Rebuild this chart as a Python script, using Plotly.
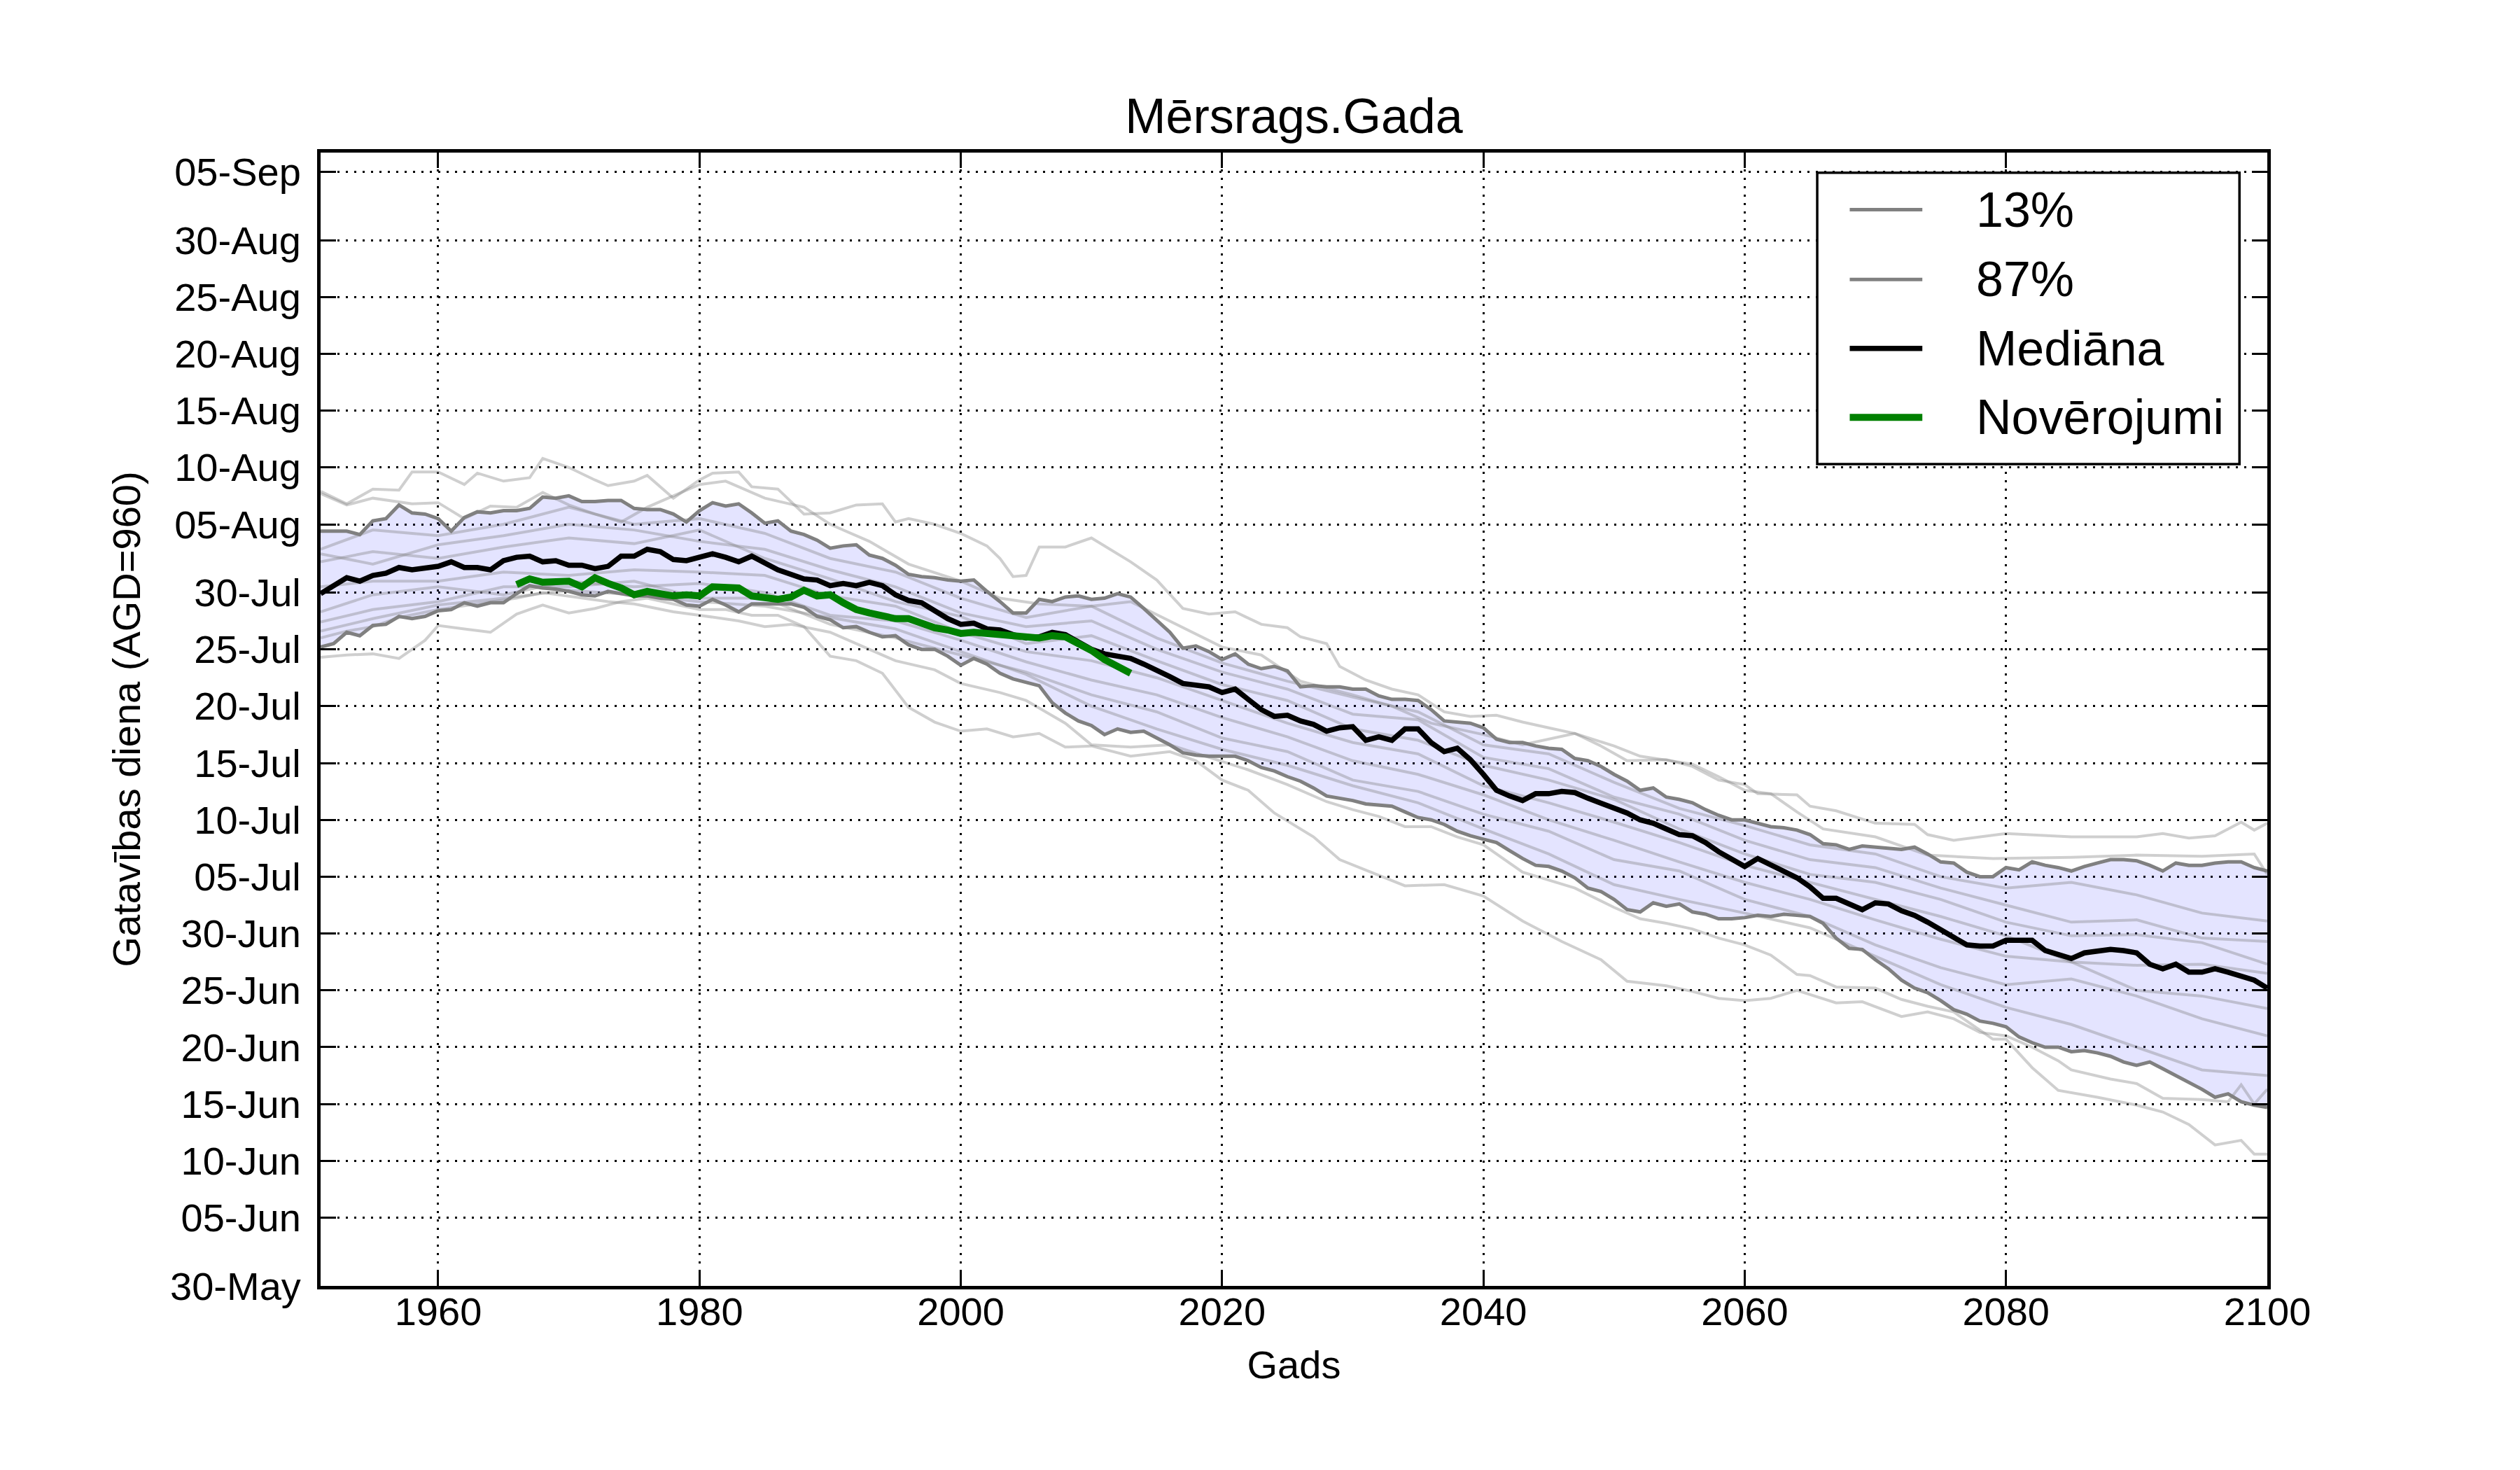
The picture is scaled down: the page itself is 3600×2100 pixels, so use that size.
import plotly.graph_objects as go

# ---------------- data (day of year, non-leap) ----------------
median_years = [1951,1953,1954,1955,1956,1957,1958,1959,1960,1961,1962,1963,1964,1965,1966,1967,1968,1969,1970,
                1971,1972,1973,1974,1975,1976,1977,1978,1979,1980,1981,1982,1983,1984,1985,1986,1987,1988,1989,1990,
                1991,1992,1993,1994,1995,1996,1997,1998,1999,2000,2001,2002,2003,2004,2005,2006,2007,2008,2009,2010,
                2011,2012,2013,2014,2015,2016,2017,2018,2019,2020,2021,2022,2023,2024,2025,2026,2027,2028,2029,2030,
                2031,2032,2033,2034,2035,2036,2037,2038,2039,2040,2041,2042,2043,2044,2045,2046,2047,2048,2049,2050,
                2051,2052,2053,2054,2055,2056,2057,2058,2059,2060,2061,2062,2063,2064,2065,2066,2067,2068,2069,2070,
                2071,2072,2073,2074,2075,2076,2077,2078,2079,2080,2081,2082,2083,2084,2085,2086,2087,2088,2089,2090,
                2091,2092,2093,2094,2095,2096,2097,2098,2099,2100]
median_vals = [210.9,212.3,212.0,212.5,212.7,213.2,213.0,213.1,213.3,213.7,213.2,213.2,213.0,213.8,214.1,214.2,213.7,213.8,213.4,
               213.4,213.1,213.3,214.2,214.2,214.8,214.6,213.9,213.8,214.1,214.4,214.1,213.7,214.2,213.6,213.0,212.6,212.2,212.1,211.6,
               211.8,211.6,211.9,211.6,210.8,210.3,210.1,209.4,208.7,208.2,208.3,207.8,207.7,207.3,207.0,207.1,207.5,207.3,206.7,206.0,
               205.6,205.4,205.2,204.7,204.2,203.6,203.0,202.8,202.7,202.2,202.5,201.6,200.7,200.1,200.2,199.7,199.4,198.8,199.1,199.2,
               198.0,198.3,198.0,199.0,199.0,197.8,197.0,197.3,196.3,195.0,193.6,193.1,192.7,193.3,193.3,193.5,193.4,192.9,192.5,192.1,
               191.6,191.0,190.7,190.2,189.7,189.6,189.0,188.2,187.6,186.9,187.6,187.0,186.4,185.9,185.1,184.1,184.1,183.6,183.1,183.7,
               183.6,183.0,182.6,182.0,181.3,180.6,180.0,179.9,179.9,180.4,180.4,180.4,179.5,179.2,178.8,179.3,179.4,179.6,179.5,179.3,
               178.3,177.9,178.3,177.6,177.6,177.9,177.6,177.2,176.9,176.2]

p87_years = [1951,1953,1954,1955,1956,1957,1958,1959,1960,1961,1962,1963,1964,1965,1966,1967,1968,1969,1970,
             1971,1972,1973,1974,1975,1976,1977,1978,1979,1980,1981,1982,1983,1984,1985,1986,1987,1988,1989,1990,
             1991,1992,1993,1994,1995,1996,1997,1998,1999,2000,2001,2002,2003,2004,2005,2006,2007,2008,2009,2010,
             2011,2012,2013,2014,2015,2016,2017,2018,2019,2020,2021,2022,2023,2024,2025,2026,2027,2028,2029,2030,
             2031,2032,2033,2034,2035,2036,2037,2038,2039,2040,2041,2042,2043,2044,2045,2046,2047,2048,2049,2050,
             2051,2052,2053,2054,2055,2056,2057,2058,2059,2060,2061,2062,2063,2064,2065,2066,2067,2068,2069,2070,
             2071,2072,2073,2074,2075,2076,2077,2078,2079,2080,2081,2082,2083,2084,2085,2086,2087,2088,2089,2090,
             2091,2092,2093,2094,2095,2096,2097,2098,2099,2100]
p87_vals = [216.4,216.4,216.1,217.3,217.5,218.7,218.0,217.9,217.5,216.4,217.6,218.1,218.0,218.2,218.2,218.4,219.4,219.3,219.5,
            219.0,219.0,219.1,219.1,218.4,218.3,218.3,217.9,217.2,218.2,218.9,218.6,218.8,218.0,217.1,217.3,216.4,216.1,215.6,214.9,
            215.1,215.2,214.3,214.0,213.4,212.6,212.4,212.3,212.1,212.0,212.1,211.1,210.2,209.2,209.2,210.4,210.2,210.6,210.7,210.4,
            210.5,210.9,210.6,209.6,208.6,207.5,206.1,206.3,205.8,205.1,205.6,204.7,204.3,204.5,204.1,202.7,202.8,202.7,202.7,202.5,
            202.5,201.9,201.6,201.6,201.5,200.7,199.7,199.6,199.5,199.1,198.1,197.8,197.8,197.5,197.3,197.2,196.4,196.2,195.7,195.0,
            194.4,193.6,193.8,193.0,192.8,192.5,191.9,191.4,191.0,191.0,190.7,190.4,190.3,190.1,189.7,188.9,188.8,188.4,188.7,188.6,
            188.5,188.4,188.6,188.0,187.3,187.2,186.4,186.0,186.0,186.8,186.6,187.3,187.0,186.8,186.5,186.9,187.2,187.5,187.5,187.4,
            187.0,186.5,187.2,187.0,187.0,187.2,187.3,187.3,186.8,186.5]

p13_years = list(range(1951, 2101))
p13_vals = [206.2,206.5,207.5,207.2,208.1,208.2,208.9,208.7,208.9,209.4,209.5,210.1,209.8,210.1,210.1,210.9,211.6,211.4,211.3,211.1,
            210.8,210.7,211.1,210.9,210.7,210.7,210.5,210.4,209.9,209.8,210.4,209.9,209.3,210.0,210.0,210.0,210.0,209.7,208.9,208.6,
            207.9,208.0,207.5,207.1,207.2,206.4,206.0,206.0,205.4,204.6,205.2,204.7,203.9,203.4,203.1,202.8,201.3,200.4,199.7,199.3,
            198.5,199.0,198.7,198.8,198.2,197.6,196.9,196.7,196.6,196.6,196.6,196.2,195.6,195.3,194.8,194.4,193.8,193.1,192.9,192.7,
            192.4,192.3,192.2,191.7,191.2,191.0,190.6,190.0,189.6,189.3,189.0,188.3,187.6,187.0,186.9,186.5,185.9,185.0,184.7,184.0,
            183.1,182.9,183.7,183.4,183.6,182.9,182.7,182.3,182.3,182.4,182.6,182.5,182.7,182.6,182.5,181.9,180.6,179.7,179.6,178.7,
            177.9,176.9,176.2,175.8,175.1,174.3,173.9,173.3,173.1,172.8,171.9,171.4,171.0,171.0,170.6,170.7,170.5,170.2,169.7,169.4,
            169.7,169.1,168.5,167.9,167.3,166.6,166.9,166.2,165.9,165.7]

obs_years = list(range(1966, 2014))
obs_vals = [211.7,212.2,211.9,211.9,212.0,211.5,212.3,211.8,211.4,210.8,211.1,210.9,210.7,210.8,210.7,211.5,211.4,211.4,210.7,210.5,
            210.4,210.6,211.2,210.7,210.8,210.1,209.5,209.2,209.0,208.7,208.7,208.3,207.9,207.7,207.4,207.5,207.4,207.3,207.2,207.1,
            207.0,207.2,207.1,206.5,205.9,205.1,204.5,203.9]

# individual model runs (light grey)
m1_years = [1951,1953,1955,1957,1958,1960,1962,1963,1965,1967,1968,1970,1972,1973,1975,1976,1978,1980,1981,1983,1984,1986,1988,1990,
            1992,1994,1995,1996,1998,2000,2002,2003,2004,2005,2006,2008,2010,2013,2015,2017,2019,2021,2023,2025,2026,2028,2029,2031,
            2033,2035,2037,2039,2041,2043,2045,2047,2049,2051,2054,2056,2058,2060,2061,2064,2065,2067,2070,2073,2074,2076,2080,2085,
            2090,2092,2094,2096,2098,2099,2100]
m1_vals = [219.9,218.8,220.1,220.0,221.6,221.6,220.5,221.5,220.8,221.1,222.8,222.0,220.9,220.4,220.8,221.3,219.3,220.9,221.5,221.6,
           220.3,220.1,217.9,218.0,218.7,218.8,217.2,217.5,217.0,216.2,215.1,214.0,212.4,212.5,215.0,215.0,215.8,213.7,212.1,209.6,
           209.1,209.3,208.2,207.9,207.1,206.5,204.5,203.3,202.5,202.0,200.5,200.1,200.2,199.6,199.1,198.6,197.5,196.2,196.3,195.7,
           194.5,194.1,193.3,193.2,192.2,191.8,190.7,190.6,189.7,189.2,189.8,189.5,189.5,189.8,189.4,189.6,190.8,190.1,190.7]

m2_years = [1951,1953,1955,1958,1960,1962,1964,1966,1968,1970,1972,1974,1976,1978,1980,1982,1985,1988,1990,1993,1996,2000,2003,2006,
            2010,2013,2016,2020,2023,2026,2030,2033,2036,2040,2043,2047,2050,2052,2056,2058,2060,2062,2064,2066,2070,2074,2079,2085,
            2090,2095,2099,2100]
m2_vals = [219.7,218.7,219.3,218.8,218.9,217.5,218.6,218.5,219.8,218.7,217.9,217.2,218.5,219.5,220.5,220.8,219.3,218.5,217.0,215.5,
           213.5,212.0,210.5,210.0,209.8,210.2,208.5,206.2,205.5,203.2,202.0,201.0,199.5,198.5,197.6,198.6,197.5,196.6,195.9,194.8,
           193.6,193.3,191.7,190.2,189.5,187.9,187.6,187.7,187.9,187.8,188.0,186.2]

m3_years = [1951,1953,1955,1957,1959,1960,1962,1964,1966,1968,1970,1972,1974,1976,1978,1980,1982,1984,1986,1988,1990,1992,1994,1996,
            1998,2000,2002,2004,2006,2008,2010,2013,2016,2018,2020,2022,2024,2027,2029,2032,2034,2037,2040,2043,2046,2049,2051,2054,
            2056,2058,2060,2062,2064,2067,2069,2072,2074,2076,2078,2080,2082,2084,2085,2088,2090,2092,2095,2097,2098,2099,2100]
m3_vals = [205.3,205.5,205.6,205.2,206.8,208.1,207.8,207.5,209.1,209.9,209.2,209.6,210.2,210.5,210.0,209.5,209.5,209.0,209.0,208.0,
           205.4,205.0,203.9,200.9,199.6,198.8,199.0,198.3,198.6,197.4,197.5,196.6,197.0,196.2,194.5,193.6,191.6,189.5,187.5,186.1,
           185.2,185.3,184.3,182.1,180.3,178.7,176.8,176.4,175.9,175.3,175.1,175.3,176.0,174.9,175.0,173.7,174.1,173.5,172.3,172.0,
           171.0,169.8,169.0,168.2,167.8,166.5,166.4,166.2,167.7,166.0,167.3]

m4_years = [1951,1953,1955,1957,1960,1963,1966,1968,1970,1973,1975,1978,1980,1983,1985,1987,1990,1993,1995,1998,2000,2003,2005,2008,
            2010,2013,2016,2019,2022,2025,2028,2030,2032,2034,2036,2038,2040,2043,2047,2050,2052,2054,2056,2058,2060,2062,2064,2065,
            2067,2070,2072,2074,2076,2078,2079,2080,2082,2084,2087,2090,2092,2094,2096,2098,2099,2100]
m4_vals = [207.0,207.6,208.0,208.8,209.5,210.0,210.5,211.0,210.7,210.2,210.0,209.3,209.0,208.5,208.0,208.2,207.5,206.0,205.0,204.2,
           203.0,202.2,201.5,199.5,197.6,197.4,197.6,196.5,195.4,194.1,192.6,191.9,191.3,190.4,190.4,189.5,188.8,186.4,185.0,183.3,
           182.3,181.9,181.4,180.6,180.0,179.1,177.4,177.3,176.3,176.2,175.2,174.6,174.1,172.5,171.7,171.7,169.2,167.2,166.6,165.9,
           165.3,164.2,162.4,162.8,161.6,161.6]

grid5_years = [1951,1955,1960,1965,1970,1975,1980,1985,1990,1995,2000,2005,2010,2015,2020,2025,2030,2035,2040,2045,2050,
               2055,2060,2065,2070,2075,2080,2085,2090,2095,2100]
m5_vals = [214.8,216.5,216.0,217.0,218.5,217.0,217.5,216.2,214.0,212.8,210.5,208.8,209.8,207.0,204.8,203.2,201.8,200.5,197.6,196.8,
           194.3,192.0,190.5,188.8,188.0,186.0,185.0,185.5,184.4,182.8,182.1]
m6_vals = [214.4,213.5,215.2,216.0,217.0,216.5,215.5,214.8,213.0,211.5,209.2,208.0,208.5,206.0,204.0,202.5,200.3,199.8,196.5,195.5,
           193.0,191.5,189.2,187.5,186.8,185.0,183.5,182.0,182.2,180.6,180.3]
m7_vals = [213.7,214.6,214.0,215.0,215.8,215.3,216.5,214.0,212.2,210.2,208.9,206.5,207.2,205.0,202.9,201.5,199.0,198.0,195.8,194.5,
           192.8,190.2,188.0,186.2,185.5,184.0,182.0,180.8,180.9,180.2,178.3]
m8_vals = [211.5,212.0,212.0,212.8,212.5,213.0,212.8,212.5,210.7,209.8,207.5,205.8,205.0,203.5,201.5,199.5,197.8,196.8,194.0,192.5,
           190.8,189.0,187.0,185.5,184.0,182.5,180.8,178.5,178.2,178.3,177.5]
m9_vals = [209.3,210.8,211.5,210.8,212.0,211.5,211.8,211.0,209.0,208.5,206.8,204.9,203.3,202.0,200.0,198.3,196.2,195.0,193.2,191.0,
           189.2,187.3,185.5,184.0,182.2,180.5,179.0,178.5,176.0,175.5,174.4]
m10_vals = [208.4,209.5,210.2,211.5,211.5,212.0,210.5,210.5,208.2,207.0,205.5,204.0,202.0,200.5,198.2,197.0,194.5,193.5,191.5,190.0,
            187.5,186.5,184.0,182.5,180.0,178.0,176.5,177.0,175.5,173.5,172.0]
m11_vals = [207.6,208.7,209.9,210.5,211.2,210.8,210.2,209.8,208.8,207.8,205.8,203.8,201.0,199.0,197.2,195.8,194.0,192.5,190.2,188.0,
            185.3,184.0,182.8,181.5,179.0,176.5,174.5,173.0,171.0,169.0,168.5]

x_ticks = [1960, 1980, 2000, 2020, 2040, 2060, 2080, 2100]
y_tick_vals = [150, 156, 161, 166, 171, 176, 181, 186, 191, 196, 201, 206, 211, 217, 222, 227, 232, 237, 242, 248]
y_tick_text = ["30-May", "05-Jun", "10-Jun", "15-Jun", "20-Jun", "25-Jun", "30-Jun", "05-Jul", "10-Jul", "15-Jul",
               "20-Jul", "25-Jul", "30-Jul", "05-Aug", "10-Aug", "15-Aug", "20-Aug", "25-Aug", "30-Aug", "05-Sep"]

legend_labels = ["13%", "87%", "Mediāna", "Novērojumi"]

# ---------------- figure ----------------
FONT = "Liberation Sans, Arial, sans-serif"
fig = go.Figure()

# shaded band between 13% and 87%
fig.add_trace(go.Scatter(x=p13_years, y=p13_vals, mode="lines", line=dict(width=0, color="rgba(0,0,0,0)"),
                         showlegend=False, hoverinfo="skip"))
fig.add_trace(go.Scatter(x=p87_years, y=p87_vals, mode="lines", line=dict(width=0, color="rgba(0,0,0,0)"),
                         fill="tonexty", fillcolor="rgba(0,0,255,0.105)", showlegend=False, hoverinfo="skip"))

members = [(m1_years, m1_vals), (m2_years, m2_vals), (m3_years, m3_vals), (m4_years, m4_vals),
           (grid5_years, m5_vals), (grid5_years, m6_vals), (grid5_years, m7_vals), (grid5_years, m8_vals),
           (grid5_years, m9_vals), (grid5_years, m10_vals), (grid5_years, m11_vals)]
for xs, ys in members:
    fig.add_trace(go.Scatter(x=xs, y=ys, mode="lines", line=dict(color="rgba(128,128,128,0.38)", width=4),
                             showlegend=False, hoverinfo="skip"))

fig.add_trace(go.Scatter(x=p13_years, y=p13_vals, mode="lines", name="13%",
                         line=dict(color="#808080", width=5), showlegend=False))
fig.add_trace(go.Scatter(x=p87_years, y=p87_vals, mode="lines", name="87%",
                         line=dict(color="#808080", width=5), showlegend=False))
fig.add_trace(go.Scatter(x=median_years, y=median_vals, mode="lines", name="Mediāna",
                         line=dict(color="black", width=7.5), showlegend=False))
fig.add_trace(go.Scatter(x=obs_years, y=obs_vals, mode="lines", name="Novērojumi",
                         line=dict(color="#008000", width=10), showlegend=False))

axis_common = dict(
    ticks="inside", ticklen=22, tickwidth=2.5, tickcolor="black",
    showline=True, linewidth=5, linecolor="black", mirror="ticks",
    showgrid=True, gridcolor="black", gridwidth=2.5, griddash="3px,9px",
    zeroline=False, tickfont=dict(family=FONT, size=56, color="black"),
)

fig.update_layout(
    width=3600, height=2100,
    margin=dict(l=450, r=369, t=210, b=271),
    paper_bgcolor="white", plot_bgcolor="white",
    font=dict(family=FONT, color="black"),
    showlegend=False,
    title=dict(text="Mērsrags.Gada", x=0.5, xref="paper", xanchor="center",
               y=1 - 157 / 2100, yref="container", yanchor="middle",
               font=dict(family=FONT, size=70, color="black")),
    xaxis=dict(range=[1951, 2100], tickvals=x_ticks, ticktext=[str(v) for v in x_ticks],
               title=dict(text="Gads", font=dict(family=FONT, size=56, color="black"), standoff=27),
               ticklabelstandoff=-16, **axis_common),
    yaxis=dict(range=[150, 249.7], tickvals=y_tick_vals, ticktext=y_tick_text,
               title=dict(text="Gatavības diena (AGD=960)", font=dict(family=FONT, size=56, color="black"), standoff=26),
               ticklabelstandoff=12, **axis_common),
)

# legend box (drawn by hand to reproduce the long line samples)
fig.add_shape(type="rect", xref="paper", yref="paper", x0=0.7688, x1=0.9857, y0=0.7251, y1=0.9822,
              line=dict(color="black", width=3.5), fillcolor="white", layer="above")
legend_styles = [("#808080", 5), ("#808080", 5), ("black", 7.5), ("#008000", 10)]
legend_rows = [0.9496, 0.8881, 0.8272, 0.7663]
for label, (col, w), yy in zip(legend_labels, legend_styles, legend_rows):
    fig.add_shape(type="line", xref="paper", yref="paper", x0=0.7855, x1=0.8228, y0=yy, y1=yy,
                  line=dict(color=col, width=w), layer="above")
    fig.add_annotation(x=0.8498, y=yy, xref="paper", yref="paper", text=label, showarrow=False,
                       xanchor="left", yanchor="middle", font=dict(family=FONT, size=70, color="black"))

fig.write_html("out.html")
